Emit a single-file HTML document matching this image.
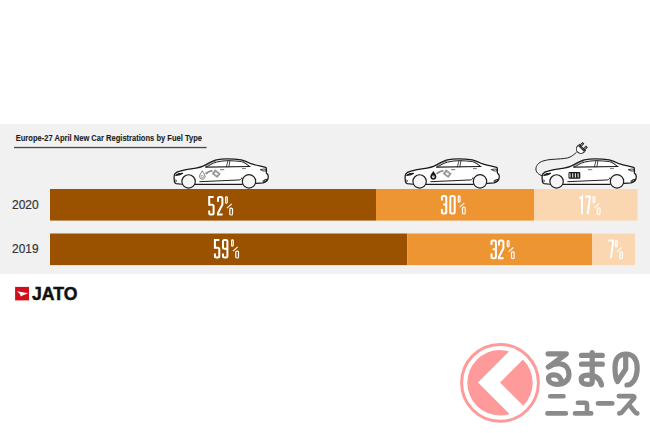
<!DOCTYPE html>
<html><head><meta charset="utf-8">
<style>
html,body{margin:0;padding:0;background:#fff;width:650px;height:433px;overflow:hidden}
svg{display:block;position:absolute;left:0;top:0}
text{font-family:"Liberation Sans",sans-serif}
</style></head>
<body>
<svg width="650" height="433" viewBox="0 0 650 433">
<defs>
  <!-- condensed digits, cell 6.4 x 19.6 -->
  <path id="d0" d="M2.5 1H3.9Q5.4 1 5.4 2.5V17.1Q5.4 18.6 3.9 18.6H2.5Q1 18.6 1 17.1V2.5Q1 1 2.5 1Z"/>
  <path id="d5" d="M5.4 1H1V8.9H3.9Q5.4 8.9 5.4 10.4V17.1Q5.4 18.6 3.9 18.6H2.5Q1 18.6 1 17.1V14.5"/>
  <path id="d2" d="M1 5.8V2.5Q1 1 2.5 1H3.9Q5.4 1 5.4 2.5V8.6L1 17.2V18.6H5.6"/>
  <path id="d3" d="M1 5.5V2.5Q1 1 2.5 1H3.9Q5.4 1 5.4 2.5V17.1Q5.4 18.6 3.9 18.6H2.5Q1 18.6 1 17.1V14M2.2 9.6H5.4"/>
  <path id="d9" d="M5.4 9.9H2.5Q1 9.9 1 8.4V2.5Q1 1 2.5 1H3.9Q5.4 1 5.4 2.5V17.1Q5.4 18.6 3.9 18.6H2.5Q1 18.6 1 17.1V14.5"/>
  <path id="d1" d="M0 3.2L2.6 1V18.6"/>
  <path id="d7" d="M0.6 1H5.4V3L3.3 18.6"/>
  <g id="pct">
    <rect x="0.6" y="0.9" width="1.7" height="6.4" rx="0.85" stroke-width="1.2"/>
    <path d="M2 12.3L6.7 7.9" stroke-width="1.1"/>
    <rect x="4.8" y="12.3" width="2.7" height="6.8" rx="1.1" stroke-width="1.2"/>
  </g>

  <!-- car symbol, local coords: origin = car2 (405,152) -->
  <g id="car">
    <path fill="#fff" stroke="#1a1a1a" stroke-width="1.25" stroke-linejoin="round"
      d="M0.8 21.9C2 20.5 4 19.6 6 19.2L12 17.7L22 16.1C25 15.6 27 15.1 28.5 14.4C33 12.2 38 9 42.5 7.9C46 7.1 50 6.8 53.3 6.8C58 6.8 63 7.2 67.3 7.9C71 8.8 74 10.2 77 11.7C80 12.8 83 13.4 85.6 13.8L91.6 15.3C92.2 15.6 92.4 16 92.4 17L92.4 21.1C93.5 22 94.3 23 94.3 24.5L93.9 27C93.5 28.5 92.5 29.6 89 30.8L82.4 31.3L68 32.25L21.2 32.25L8 32.25L2.2 31.6C1 31.3 0.5 30.5 0.4 29.5L0.1 26C0.1 24 0.4 22.5 0.8 21.9Z"/>
    <g fill="none" stroke="#1e1e1e" stroke-linecap="round" stroke-linejoin="round">
      <path d="M31.8 15.1C35 13.5 39 11 42.5 10.1C46 9.2 50 8.7 53.3 8.7C58 8.7 63 9 67.3 9.5C70 10.5 72.5 12 75.5 14.3" stroke-width="1"/>
      <path d="M31.5 13.8C35 11.8 38.5 10 42 9M69.5 9.4L73.8 13.2" stroke-width="0.7" stroke="#444"/>
      <path d="M31.8 15.1L76 14.5" stroke-width="1.1"/>
      <path d="M53.9 8.7L52.4 14.9M55.9 8.7L54.9 14.9" stroke-width="0.8"/>
      <path d="M25.8 29.7L60 28.2L65.8 27.9C66.8 27.6 67.5 26.8 67.9 25.8" stroke-width="1"/>
      <path d="M46.4 17.7H49.9M68.4 16.6H71.5" stroke-width="0.9" stroke="#666"/>
      <path d="M1.8 23.1C3.5 21.6 6 21.1 8.6 21.2C7 22.4 4 23.1 1.8 23.4Z" stroke-width="1.1" fill="#444"/>
      <path d="M1.2 28C2 27.8 2.6 28.3 2.6 29C2.4 29.8 1.8 30 1.2 29.8" stroke-width="0.8"/>
      <path d="M86.6 17.7C88.5 16.9 90.5 17 92.2 17.4L92.2 18.9C90 19.3 87.5 18.9 86.6 17.7Z" stroke-width="0.9"/>
      <path d="M89 29.2C90.5 28 92 27.4 93.5 27.3" stroke-width="1.1"/>
    </g>
    <circle cx="14.6" cy="29.45" r="6.7" fill="#f6f6f6" stroke="#1e1e1e" stroke-width="1.2"/>
    <circle cx="75" cy="29.4" r="6.7" fill="#f6f6f6" stroke="#1e1e1e" stroke-width="1.2"/>
  </g>
  <g id="nozzle">
    <path d="M31.6 21.8C33.5 20 35.6 19 38.4 18.6" fill="none" stroke="#8c8c8c" stroke-width="1.9"/>
    <g transform="translate(42.2 21.7) rotate(38)">
      <rect x="-3.6" y="-2.8" width="7.2" height="5.6" fill="#9a9a9a"/>
      <rect x="-1.5" y="-1.1" width="3.2" height="2.2" fill="#f4f4f4"/>
    </g>
  </g>
</defs>

<!-- panel -->
<rect x="0" y="124" width="650" height="150" fill="#f1f1f1"/>

<!-- title -->
<text x="15.7" y="140.8" font-size="8.8" font-weight="bold" fill="#1c1c1c" stroke="#1c1c1c" stroke-width="0.1" textLength="186.3" lengthAdjust="spacingAndGlyphs">Europe-27 April New Car Registrations by Fuel Type</text>
<rect x="14" y="146.85" width="192.6" height="1.35" fill="#4a4a4a"/>

<!-- years -->
<text x="12" y="208.8" font-size="12.8" fill="#333" stroke="#333" stroke-width="0.2" textLength="26.7" lengthAdjust="spacingAndGlyphs">2020</text>
<text x="12.1" y="253.2" font-size="12.8" fill="#333" stroke="#333" stroke-width="0.2" textLength="26.4" lengthAdjust="spacingAndGlyphs">2019</text>

<!-- bars 2020 -->
<rect x="50" y="189" width="326" height="31.6" fill="#9b5200"/>
<rect x="376" y="189" width="158" height="31.6" fill="#ed9433"/>
<rect x="534" y="189" width="103.5" height="31.6" fill="#fad7b0"/>
<!-- bars 2019 -->
<rect x="50" y="233.5" width="357.3" height="31.6" fill="#9b5200"/>
<rect x="407.3" y="233.5" width="184.7" height="31.6" fill="#ed9433"/>
<rect x="592" y="233.5" width="43" height="31.6" fill="#fad7b0"/>

<!-- percentages -->
<g fill="none" stroke="#fff" stroke-width="2" stroke-linejoin="miter">
  <g transform="translate(208.2 195.9)"><use href="#d5"/><use href="#d2" x="8.8"/><use href="#pct" x="16.8"/></g>
  <g transform="translate(440.9 194.9)"><use href="#d3"/><use href="#d0" x="8.4"/><use href="#pct" x="16.8"/></g>
  <g transform="translate(579.4 195.6)"><use href="#d1"/><use href="#d7" x="5"/><use href="#pct" x="13.1"/></g>
  <g transform="translate(213.9 238.9)"><use href="#d5"/><use href="#d9" x="8.1"/><use href="#pct" x="17.1"/></g>
  <g transform="translate(490.5 239.6)"><use href="#d3"/><use href="#d2" x="7.5"/><use href="#pct" x="16.2"/></g>
  <g transform="translate(607.6 239.6)"><use href="#d7"/><use href="#pct" x="7.3"/></g>
</g>

<!-- cars -->
<g transform="translate(174 152)"><use href="#car"/><use href="#nozzle"/>
  <path d="M28.3 18.9C27.5 20.5 25.6 22.4 25.6 24.4C25.6 26 26.8 27.2 28.3 27.2C29.8 27.2 31 26 31 24.4C31 22.4 29.1 20.5 28.3 18.9Z" fill="none" stroke="#555" stroke-width="0.8"/>
  <circle cx="28.3" cy="24.6" r="1.2" fill="none" stroke="#666" stroke-width="0.6"/>
</g>
<g transform="translate(405 152)"><use href="#car"/><use href="#nozzle"/>
  <path d="M28.35 18.8C27.6 20.6 25.3 22.6 25.3 24.7C25.3 26.4 26.7 27.7 28.35 27.7C30 27.7 31.4 26.4 31.4 24.7C31.4 22.6 29.1 20.6 28.35 18.8Z" fill="#1a1a1a"/>
  <circle cx="28.35" cy="24.8" r="1.35" fill="#f2f2f2"/>
  <circle cx="28.35" cy="24.8" r="0.45" fill="#444"/>
</g>
<g transform="translate(542 152)"><use href="#car"/>
  <rect x="26.5" y="19.9" width="11.8" height="6.9" rx="1.2" fill="#1a1a1a"/>
  <path d="M28 21.2V25.5M30.7 21.2V25.5M33.4 21.2V25.5M36.1 21.2V25.5" stroke="#e8e8e8" stroke-width="1.1"/>
  <path d="M0.5 24C-3.5 22.5 -6.2 20 -6.1 17C-6 13.5 -3.5 10.5 1 9C4 8 7 7.6 10 7.4C16 7 21.5 6.8 25.7 5.9C29 5 31.5 3 34.5 0.4" fill="none" stroke="#222" stroke-width="1"/>
  <g transform="translate(40.3 -4.4) rotate(45)" fill="none" stroke="#1e1e1e" stroke-width="0.95">
    <path d="M-4.5 1.3V2A4.5 4.5 0 0 0 4.5 2V1.3" fill="#fff"/>
    <path d="M-4.9 0H4.9M-4.5 1.3H4.5"/>
    <rect x="-3.3" y="-3.6" width="1.6" height="3.6"/>
    <rect x="1.7" y="-3.6" width="1.6" height="3.6"/>
  </g>
</g>

<!-- JATO -->
<rect x="15.1" y="286.9" width="13.9" height="13.5" fill="#d20f18"/>
<path d="M16.9 291.2L28.2 293.3L22.5 295.5L20.6 296.4L20.2 294.3Z" fill="#fff"/>
<text x="32" y="300.3" font-size="18.5" font-weight="bold" fill="#111" stroke="#111" stroke-width="0.5" textLength="45.4" lengthAdjust="spacingAndGlyphs">JATO</text>

<!-- watermark -->
<g>
  <circle cx="500" cy="382.8" r="38.4" fill="none" stroke="#ff9a9a" stroke-width="3"/>
  <circle cx="500" cy="382.8" r="32.7" fill="#ff9a9a"/>
  <path d="M465 382.6L500 347.6L511 358.6L487 382.6L511 406.6L500 417.6Z" fill="#fff" transform="translate(13 0)"/>
</g>
<g fill="none" stroke="#8a8a8a" stroke-width="5.2" stroke-linecap="round" stroke-linejoin="round">
  <path d="M548.1 353.8H566.3L548.3 367C552 364.5 556 363.6 560 363.8C566 364.3 569 369 569 374.5C569 380.5 564 384.3 557 384.3C551.5 384.3 548.5 381.5 548.5 378.5C548.5 376 551 374.8 553.8 374.8C558.5 374.8 561.5 378 561.5 383"/>
  <path d="M581.5 355.4H602.3M581.5 364.2H602.3M592.2 352.5V382C592.2 384 591 384.4 588 384.4C583.5 384.4 581.2 382.5 581.2 379.8C581.2 377 583.5 375.2 588 375.2C594 375.2 600 377.5 601.5 385"/>
  <path d="M625.7 354.5V369L617.5 381.5C615 378 615 373 615 367C615 358.5 619.5 354 626 354C633 354 637.2 359 637.2 368C637.2 379 632 385 627 385"/>
  <path d="M550.2 396.3H563.5M547.4 413.4H565.9" stroke-width="4.6"/>
  <path d="M577.9 402.8H585Q587 402.8 587 404.8V413.4M575 413.4H591.2" stroke-width="4.6"/>
  <path d="M598 403.4H612.3" stroke-width="4.6"/>
  <path d="M618.8 396.1H632.5Q635.5 396.1 633.8 398.6L622.5 411.6Q621.3 413.4 619.3 413.4M629.8 405.7L634.8 411.8Q636 413.4 637.3 413.4" stroke-width="4.6"/>
</g>
</svg>
</body></html>
